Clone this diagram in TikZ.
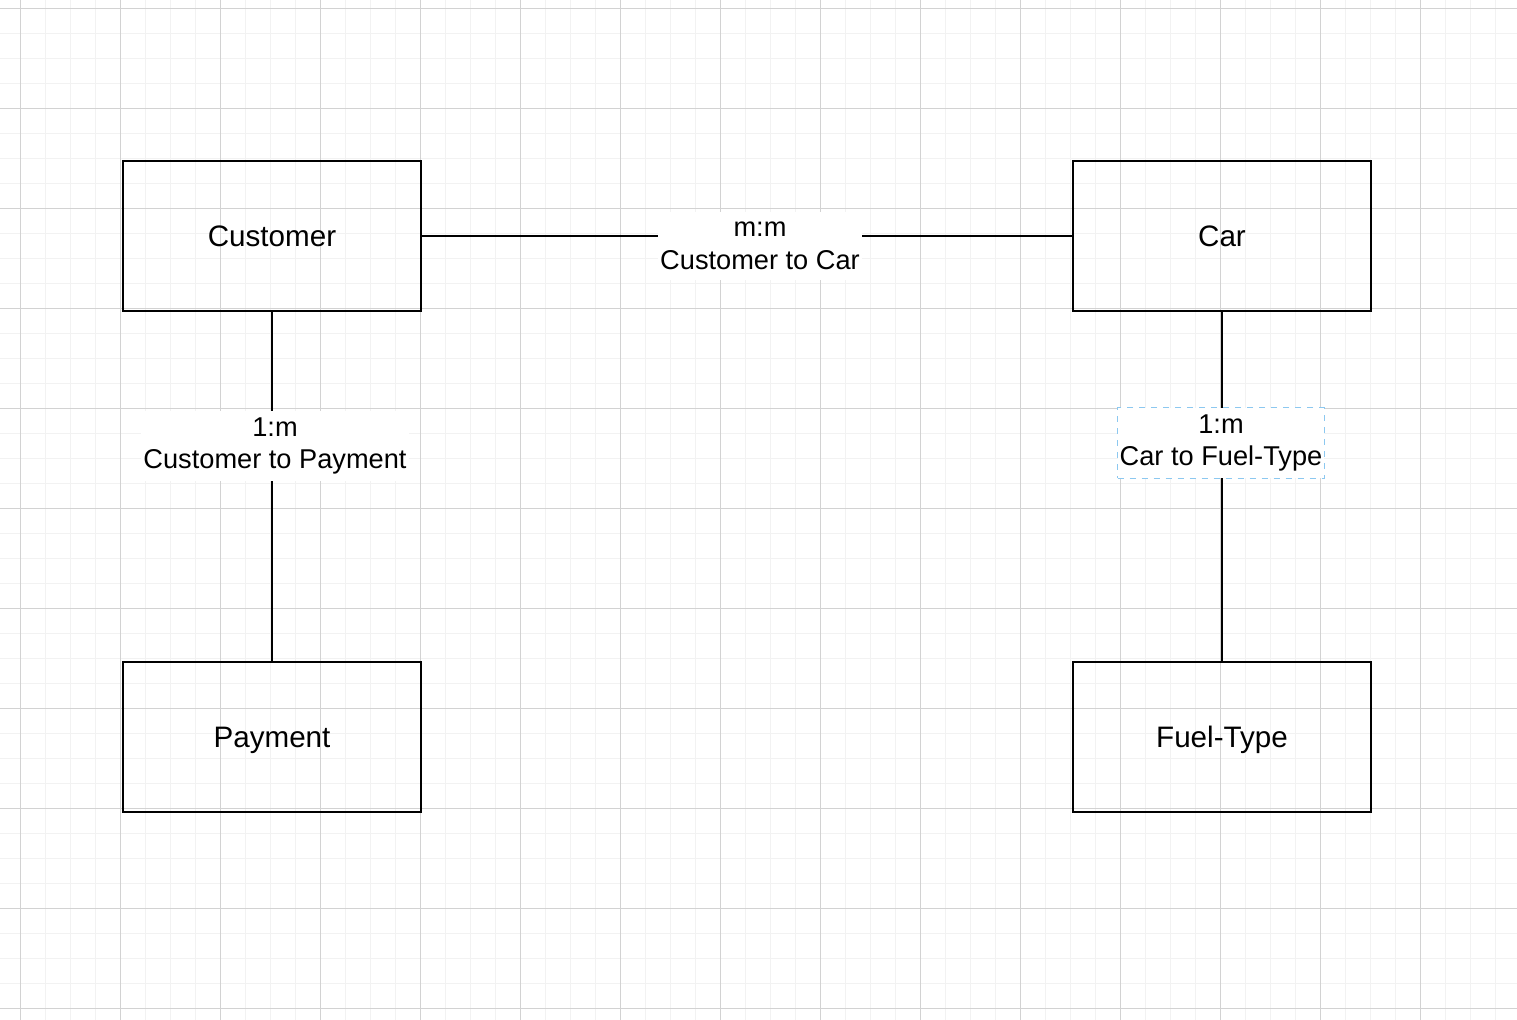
\documentclass[tikz,border=0pt]{standalone}
\usepackage{fontspec}
\setmainfont{Liberation Sans}
\usetikzlibrary{positioning}
\definecolor{pikkuruutu}{HTML}{F2F2F2}
\definecolor{isoruutu}{HTML}{D2D2D2}
\definecolor{valinta}{HTML}{8CC8F0}

\begin{document}
\begin{tikzpicture}[line join=miter,x=0.5pt,y=-0.5pt,
  entity/.style={draw,line width=1.1pt,minimum width=149pt,minimum height=75pt,
    text height=13.6pt,text depth=3pt,font=\fontsize{14.8}{17}\selectfont},
  relation/.style={fill=white,align=center,inner xsep=1pt,minimum height=34pt,
    font=\fontsize{13.6}{16.3}\selectfont}]
\useasboundingbox (0,0) rectangle (1517,1020);
\fill[white] (0,0) rectangle (1517,1020);

%ruudukko
\foreach \x in {-5,20,...,1517}
{\draw[pikkuruutu,line width=0.5pt] (\x,0) -- (\x,1020);}
\foreach \y in {9,34,...,1020}
{\draw[pikkuruutu,line width=0.5pt] (0,\y) -- (1517,\y);}
\foreach \x in {20,120,...,1517}
{\draw[isoruutu,line width=0.5pt] (\x,0) -- (\x,1020);}
\foreach \y in {9,109,...,1020}
{\draw[isoruutu,line width=0.5pt] (0,\y) -- (1517,\y);}

%laatikot
\node [entity] (customer) at (272,236) {Customer};
\node [entity] (car) at (1222,236) {Car};
\node [entity] (payment) at (272,737) {Payment};
\node [entity] (fueltype) at (1222,737) {Fuel-Type};

%yhteydet
\draw [line width=1.1pt] (customer) -- (car);
\draw [line width=1.1pt] (customer) -- (payment);
\draw [line width=1.1pt] (car) -- (fueltype);

%suhteet
\node [relation] (custcar) at (760,246) {m:m\\Customer to Car};
\node [relation] (custpay) at (275,446) {1:m\\Customer to Payment};
\node [relation,draw=valinta,dashed,line width=0.5pt] (carfuel) at (1221,443) {1:m\\Car to Fuel-Type};
\end{tikzpicture}
\end{document}
